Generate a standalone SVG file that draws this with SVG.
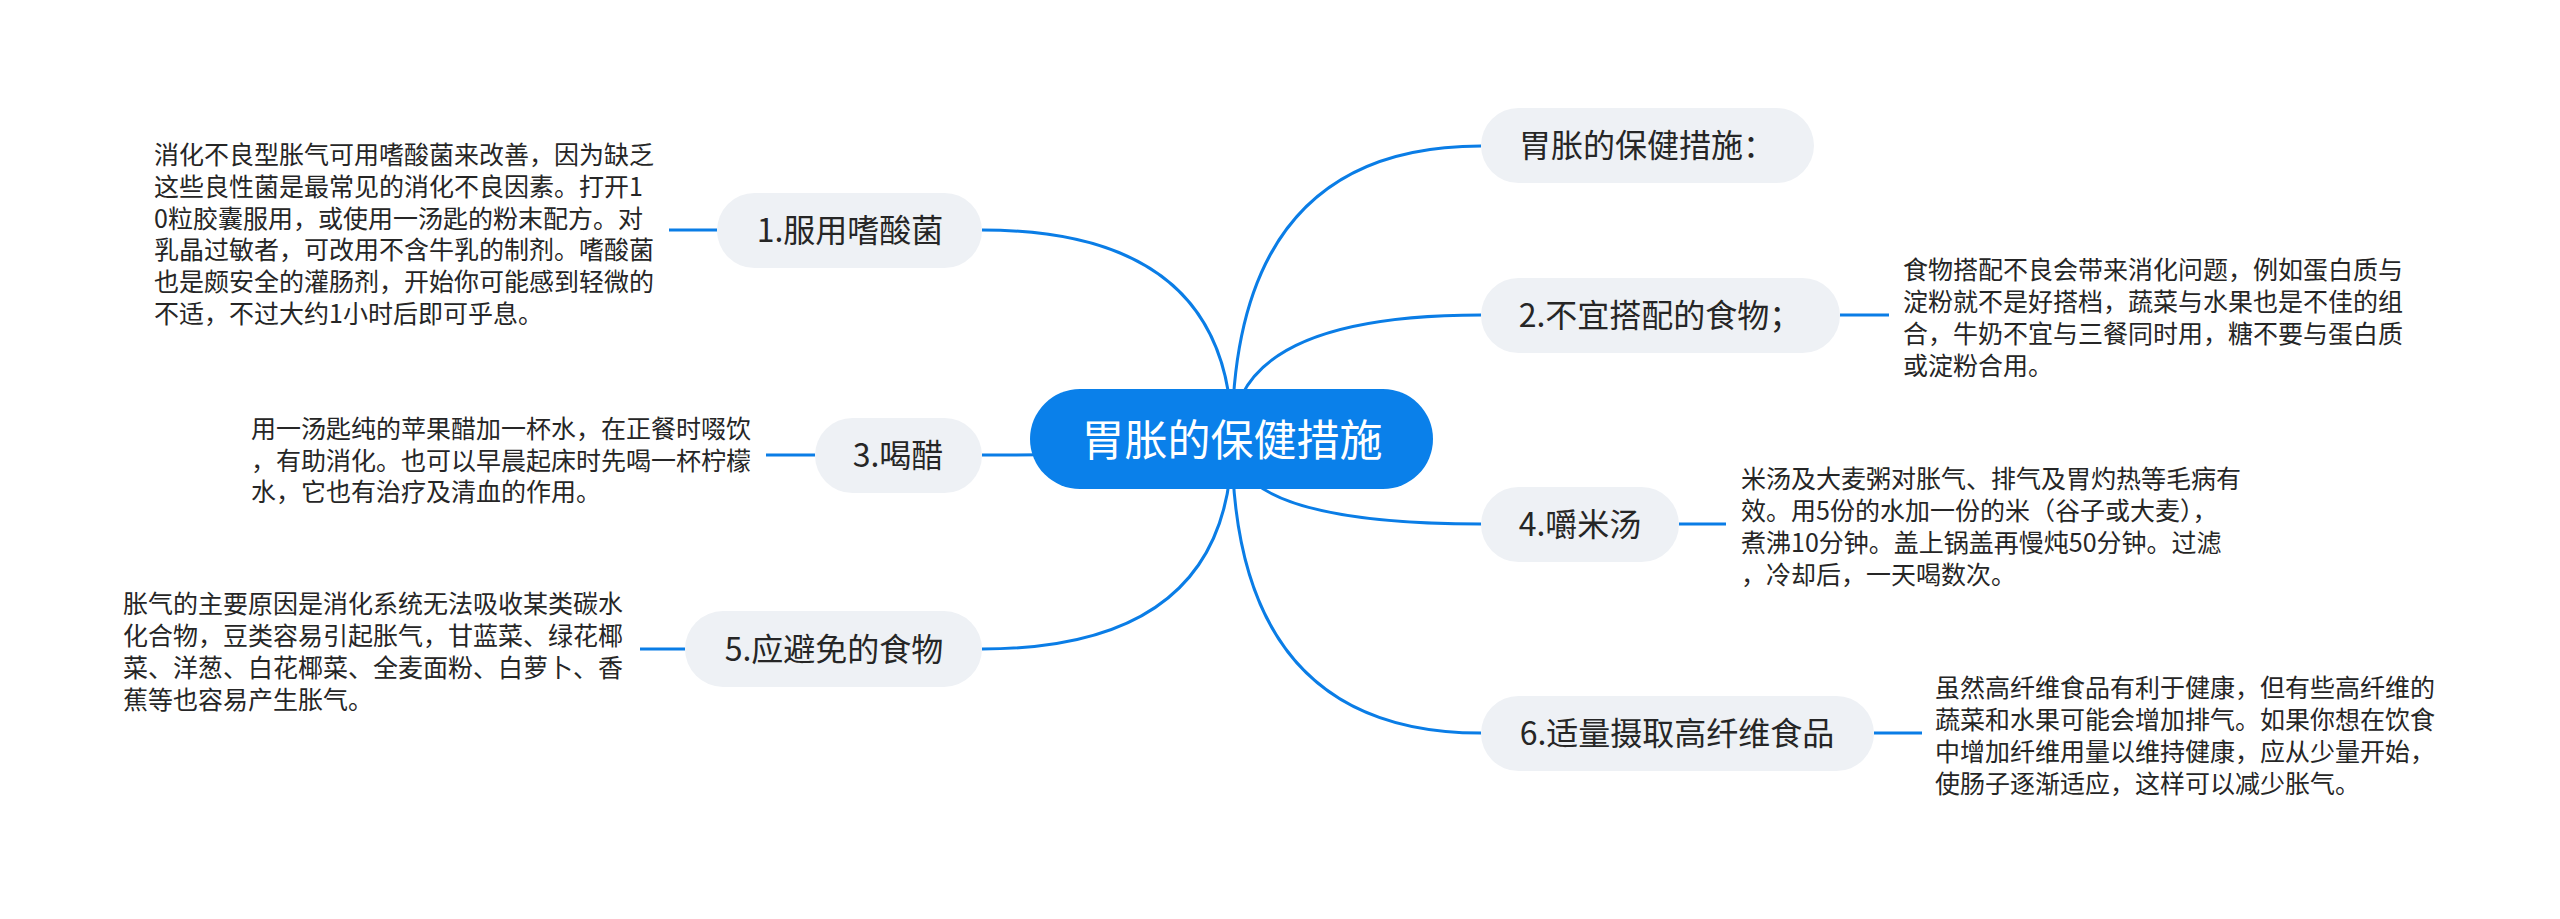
<svg xmlns="http://www.w3.org/2000/svg" width="2560" height="919" viewBox="0 0 2560 919">
<style>
.bg{fill:#ffffff}
.conn{fill:none;stroke:#0a7de6;stroke-width:3;stroke-linecap:butt}
.node rect{fill:#eef1f5}
.ntext{font-family:"Noto Sans CJK SC","Noto Sans",sans-serif;font-size:32px;fill:#262626;text-anchor:middle}
.para{font-family:"Noto Sans CJK SC","Noto Sans",sans-serif;font-size:25px;fill:#262626}
.root rect{fill:#0a80ea}
.rtext{font-family:"Noto Sans CJK SC","Noto Sans",sans-serif;font-size:43px;fill:#ffffff;text-anchor:middle}
</style>
<rect class="bg" x="0" y="0" width="2560" height="919"/>
<g id="connectors">
<path class="conn" d="M1232 440 Q1232 146 1481 146"/>
<path class="conn" d="M1232 440 Q1232 230 982 230"/>
<path class="conn" d="M1232 440 Q1232 315 1481 315"/>
<path class="conn" d="M1232 440 Q1232 455 982 455"/>
<path class="conn" d="M1232 440 Q1232 524 1481 524"/>
<path class="conn" d="M1232 440 Q1232 649 982 649"/>
<path class="conn" d="M1232 440 Q1232 733 1481 733"/>
<path class="conn" d="M669 230 H717"/>
<path class="conn" d="M766 455 H815"/>
<path class="conn" d="M640 649 H685"/>
<path class="conn" d="M1840 315 H1889"/>
<path class="conn" d="M1679 524 H1726"/>
<path class="conn" d="M1874 733 H1922"/>
</g>
<g id="root" class="root">
<rect x="1030" y="389" width="403" height="100" rx="50"/>
<text class="rtext" x="1232" y="456">胃胀的保健措施</text>
</g>
<g id="node0" class="node">
<rect x="1481" y="108" width="333" height="75" rx="37.5"/>
<text class="ntext" x="1647" y="157">胃胀的保健措施：</text>
</g>
<g id="node1" class="node">
<rect x="717" y="193" width="265" height="75" rx="37.5"/>
<text class="ntext" x="850" y="242">1.服用嗜酸菌</text>
</g>
<g id="text1">
<text class="para" x="154"><tspan x="154" y="164">消化不良型胀气可用嗜酸菌来改善，因为缺乏</tspan><tspan x="154" y="196">这些良性菌是最常见的消化不良因素。打开1</tspan><tspan x="154" y="228">0粒胶囊服用，或使用一汤匙的粉末配方。对</tspan><tspan x="154" y="259">乳晶过敏者，可改用不含牛乳的制剂。嗜酸菌</tspan><tspan x="154" y="291">也是颇安全的灌肠剂，开始你可能感到轻微的</tspan><tspan x="154" y="323">不适，不过大约1小时后即可乎息。</tspan></text>
</g>
<g id="node2" class="node">
<rect x="1481" y="278" width="359" height="75" rx="37.5"/>
<text class="ntext" x="1660" y="327">2.不宜搭配的食物；</text>
</g>
<g id="text2">
<text class="para"><tspan x="1903" y="279">食物搭配不良会带来消化问题，例如蛋白质与</tspan><tspan x="1903" y="311">淀粉就不是好搭档，蔬菜与水果也是不佳的组</tspan><tspan x="1903" y="343">合，牛奶不宜与三餐同时用，糖不要与蛋白质</tspan><tspan x="1903" y="375">或淀粉合用。</tspan></text>
</g>
<g id="node3" class="node">
<rect x="815" y="418" width="167" height="75" rx="37.5"/>
<text class="ntext" x="898" y="467">3.喝醋</text>
</g>
<g id="text3">
<text class="para"><tspan x="251" y="438">用一汤匙纯的苹果醋加一杯水，在正餐时啜饮</tspan><tspan x="251" y="470">，有助消化。也可以早晨起床时先喝一杯柠檬</tspan><tspan x="251" y="501">水，它也有治疗及清血的作用。</tspan></text>
</g>
<g id="node4" class="node">
<rect x="1481" y="487" width="198" height="75" rx="37.5"/>
<text class="ntext" x="1580" y="536">4.嚼米汤</text>
</g>
<g id="text4">
<text class="para"><tspan x="1741" y="488">米汤及大麦粥对胀气、排气及胃灼热等毛病有</tspan><tspan x="1741" y="520">效。用5份的水加一份的米（谷子或大麦），</tspan><tspan x="1741" y="552">煮沸10分钟。盖上锅盖再慢炖50分钟。过滤</tspan><tspan x="1741" y="584">，冷却后，一天喝数次。</tspan></text>
</g>
<g id="node5" class="node">
<rect x="685" y="611" width="297" height="76" rx="38"/>
<text class="ntext" x="834" y="661">5.应避免的食物</text>
</g>
<g id="text5">
<text class="para"><tspan x="123" y="613">胀气的主要原因是消化系统无法吸收某类碳水</tspan><tspan x="123" y="645">化合物，豆类容易引起胀气，甘蓝菜、绿花椰</tspan><tspan x="123" y="677">菜、洋葱、白花椰菜、全麦面粉、白萝卜、香</tspan><tspan x="123" y="709">蕉等也容易产生胀气。</tspan></text>
</g>
<g id="node6" class="node">
<rect x="1481" y="696" width="393" height="75" rx="37.5"/>
<text class="ntext" x="1677" y="745">6.适量摄取高纤维食品</text>
</g>
<g id="text6">
<text class="para"><tspan x="1935" y="697">虽然高纤维食品有利于健康，但有些高纤维的</tspan><tspan x="1935" y="729">蔬菜和水果可能会增加排气。如果你想在饮食</tspan><tspan x="1935" y="761">中增加纤维用量以维持健康，应从少量开始，</tspan><tspan x="1935" y="793">使肠子逐渐适应，这样可以减少胀气。</tspan></text>
</g>
</svg>
